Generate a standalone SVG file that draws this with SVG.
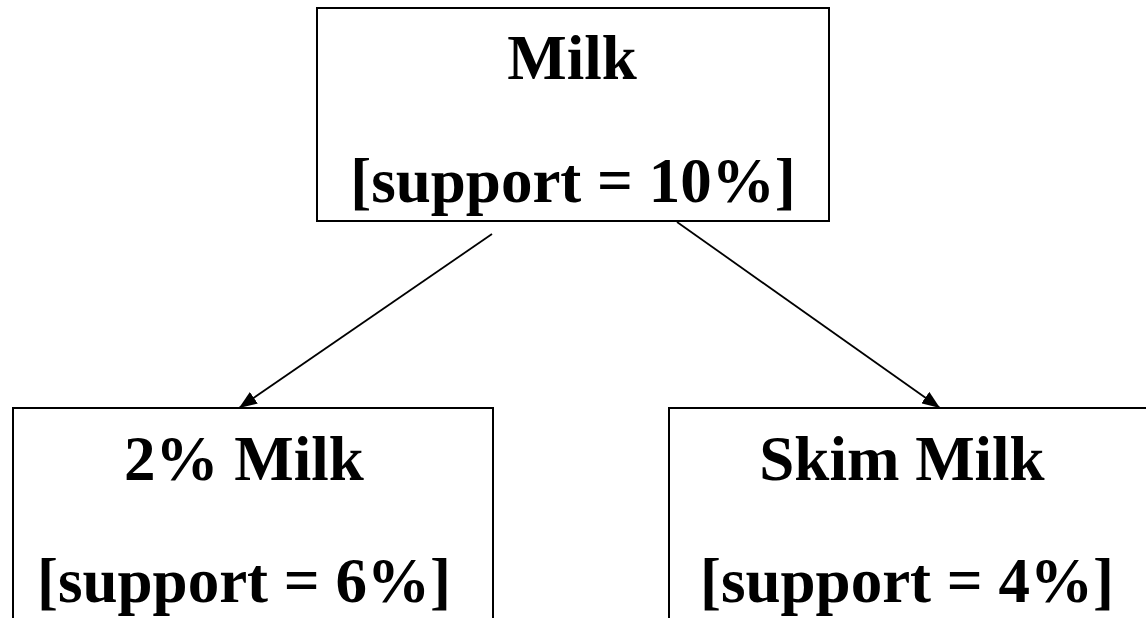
<svg xmlns="http://www.w3.org/2000/svg" width="1146" height="618" viewBox="0 0 1146 618">
<defs>
<style>
.box{fill:#fff;stroke:#000;stroke-width:2}
.t{font-family:"Liberation Serif","Times New Roman",serif;font-weight:bold;font-size:63px;fill:#000;text-anchor:middle}
.edge{stroke:#000;stroke-width:1.8;fill:none}
</style>
<marker id="arr" viewBox="0 0 18 14" refX="18" refY="7" markerWidth="18" markerHeight="14" markerUnits="userSpaceOnUse" orient="auto">
<path d="M0,0 L18,7 L0,14 Z" fill="#000"/>
</marker>
</defs>
<rect width="1146" height="618" fill="#fff"/>
<g id="milk">
<rect class="box" x="317" y="8" width="512" height="213"/>
<text class="t" x="572" y="79">Milk</text>
<text class="t" x="573" y="202">[support = 10%]</text>
</g>
<g id="milk2">
<rect class="box" x="13" y="408" width="480" height="230"/>
<text class="t" x="244" y="480">2% Milk</text>
<text class="t" x="244" y="602">[support = 6%]</text>
</g>
<g id="skim">
<rect class="box" x="669" y="408" width="500" height="230"/>
<text class="t" x="902" y="480">Skim Milk</text>
<text class="t" x="907" y="602">[support = 4%]</text>
</g>
<g id="connectors">
<line class="edge" x1="492" y1="234" x2="239" y2="408" marker-end="url(#arr)"/>
<line class="edge" x1="677" y1="222" x2="940" y2="408" marker-end="url(#arr)"/>
</g>
</svg>
